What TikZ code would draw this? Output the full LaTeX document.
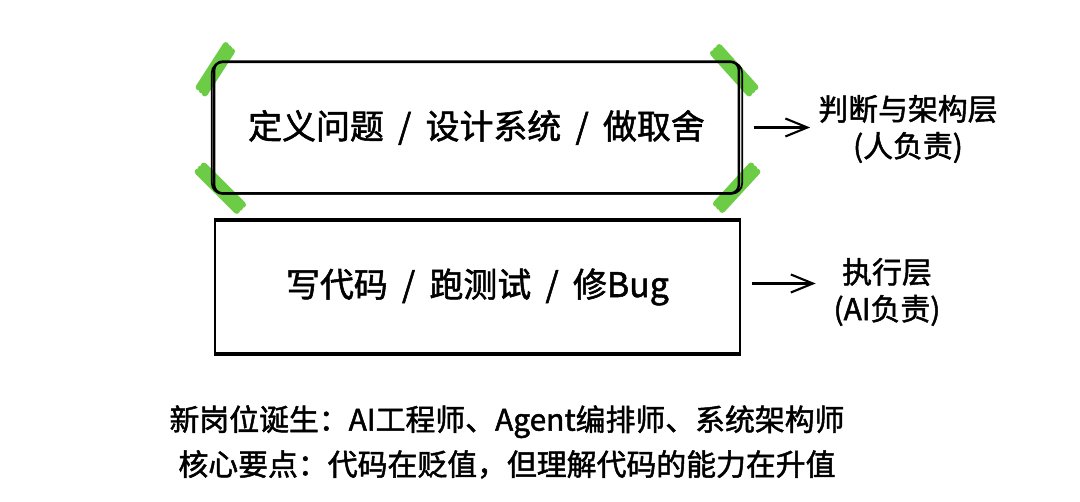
\documentclass[tikz,border=0pt]{standalone}
\usepackage{fontspec}
\usepackage{tikz}
\usetikzlibrary{arrows.meta, positioning, calc, backgrounds}
\newfontfamily\cjk[FakeBold=1.6]{Noto Sans CJK SC}
\definecolor{hlgreen}{RGB}{108,204,70}
\newcommand{\sep}{\hspace{0.42em}/\hspace{0.42em}}

\begin{document}
\begin{tikzpicture}[
    x=0.02cm, y=-0.02cm,
    every node/.style={font=\cjk},
    layer/.style={draw, line width=1.4pt, minimum width=10.5cm, minimum height=2.64cm,
                  inner sep=0pt, font=\cjk\fontsize{19.3}{23}\selectfont},
    sketch/.style={line width=1pt},
    lbl/.style={align=center, inner sep=0pt, font=\cjk\fontsize{17}{21}\selectfont},
    note/.style={align=center, inner sep=0pt, font=\cjk\fontsize{17}{25.5}\selectfont},
    hatch/.style={hlgreen, line width=3.6pt, line cap=round},
    arr/.style={-{Straight Barb[length=4.4mm, width=3.6mm]}, line width=1.2pt},
]
    \useasboundingbox (0,0) rectangle (1080,502);

    % Upper layer: judgement and architecture.
    \node[layer, rounded corners=5pt] (judge) at (476.5,127.5) {定义问题\sep 设计系统\sep 做取舍};
    \draw[sketch, rounded corners=6pt] ([shift={(-1,2)}]judge.north west) rectangle ([shift={(2,-1)}]judge.south east);

    % Green marks on its corners.
    \begin{scope}[on background layer]
        \foreach \o in {-3,0,3} {
            \draw[hatch] ($(judge.north west)+(-11+\o,30+\o)$) -- ($(judge.north west)+(16+\o,-12+\o)$);
            \draw[hatch] ($(judge.north east)+(-24+\o,-10-\o)$) -- ($(judge.north east)+(12+\o,30-\o)$);
            \draw[hatch] ($(judge.south west)+(-12+\o,-26-\o)$) -- ($(judge.south west)+(27+\o,13-\o)$);
            \draw[hatch] ($(judge.south east)+(-21+\o,12+\o)$) -- ($(judge.south east)+(14+\o,-26+\o)$);
        }
    \end{scope}

    % Lower layer: execution.
    \node[layer] (exec) at (477.5,287) {写代码\sep 跑测试\sep 修Bug};
    \draw[sketch] ([shift={(1,-1)}]exec.north west) rectangle ([shift={(-1,1)}]exec.south east);

    % Labels on the right.
    \node[lbl] (judgelbl) at (908,129) {判断与架构层\\(人负责)};
    \node[lbl] (execlbl) at (887,292) {执行层\\(AI负责)};
    \draw[arr, shorten <=8pt, shorten >=4.5pt] (judge.east) -- (judge.east -| judgelbl.west);
    \draw[arr, shorten <=6pt, shorten >=10pt] ([yshift=2]exec.east) -- ([yshift=2]exec.east -| execlbl.west);

    % Notes below.
    \node[note] (notes) at (507,442) {新岗位诞生：AI工程师、Agent编排师、系统架构师\\核心要点：代码在贬值，但理解代码的能力在升值};
\end{tikzpicture}
\end{document}
